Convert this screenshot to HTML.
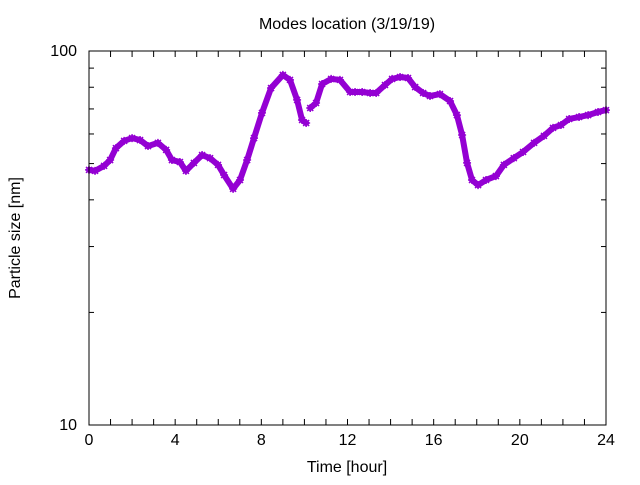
<!DOCTYPE html>
<html><head><meta charset="utf-8"><style>
body{margin:0;background:#fff}
svg text{font-family:"Liberation Sans",sans-serif;font-size:16px;fill:#000}
</style></head><body>
<svg id="chart" width="640" height="480" xmlns="http://www.w3.org/2000/svg">
<rect width="640" height="480" fill="#fff"/>
<text x="347" y="29" text-anchor="middle">Modes location (3/19/19)</text>
<text x="347" y="472" text-anchor="middle">Time [hour]</text>
<text transform="translate(20,238) rotate(-90)" text-anchor="middle">Particle size [nm]</text>
<g id="ticks"></g>
<g id="marks"></g>
<rect x="89" y="51" width="517" height="374" fill="none" stroke="#000" stroke-width="1"/>
</svg>
<script>
const hoursA=[0,0.28,0.7,0.98,1.25,1.63,2.0,2.37,2.74,3.2,3.58,3.85,4.22,4.5,4.87,5.25,5.62,5.99,6.27,6.69,7.01,7.34,7.66,8.03,8.45,9.0,9.33,9.66,9.89,10.08];
const sizesA=[48.1,47.8,49.3,51.1,55.0,57.5,58.5,57.8,55.7,56.8,54.4,51.1,50.5,47.8,50.2,52.7,51.7,49.6,46.6,42.8,45.2,51.1,58.5,68.3,79.6,86.3,83.7,74.0,65.4,64.2];
const hoursB=[10.27,10.54,10.82,11.24,11.65,12.12,12.35,12.68,13.05,13.33,13.74,14.07,14.44,14.81,15.14,15.51,15.83,16.29,16.76,17.08,17.32,17.55,17.78,18.06,18.43,18.89,19.26,19.72,20.15,20.66,21.12,21.54,21.91,22.29,22.75,23.17,23.63,24.0];
const sizesB=[70.4,72.6,81.6,84.2,83.7,77.7,77.7,77.7,77.2,77.2,81.1,84.2,85.2,84.7,80.1,77.2,75.8,76.7,73.5,67.4,59.6,50.2,45.2,43.8,45.2,46.3,49.6,51.7,53.7,56.8,59.3,62.3,63.4,65.8,66.6,67.4,68.7,69.5];
const xTickLabels=["0","4","8","12","16","20","24"];
const yTickLabels=["10","100"];
const X0=89,X1=606,Y0=425,Y1=51;
const xs=t=>X0+(t/24)*(X1-X0);
const ys=v=>Y0-(Math.log10(v)-1)*(Y0-Y1);
const NS="http://www.w3.org/2000/svg";
const tk=document.getElementById('ticks'),mk=document.getElementById('marks');
function ln(x1,y1,x2,y2){const l=document.createElementNS(NS,'line');l.setAttribute('x1',x1);l.setAttribute('y1',y1);l.setAttribute('x2',x2);l.setAttribute('y2',y2);l.setAttribute('stroke','#000');


tk.appendChild(l);}
for(let h=0;h<=24;h++){const x=xs(h);ln(x,Y0,x,Y0-6);ln(x,Y1,x,Y1+6);}
xTickLabels.forEach(s=>{const t=document.createElementNS(NS,'text');t.setAttribute('x',xs(+s));t.setAttribute('y',Y0+20);t.setAttribute('text-anchor','middle');t.textContent=s;


tk.appendChild(t);});
for(let v=10;v<=100;v+=10){const y=ys(v);const len=(v==10||v==100)?9:5;ln(X0,y,X0+len,y);ln(X1,y,X1-len,y);}
yTickLabels.forEach(s=>{const t=document.createElementNS(NS,'text');t.setAttribute('x',X0-12);t.setAttribute('y',ys(+s)+5);t.setAttribute('text-anchor','end');t.textContent=s;


tk.appendChild(t);});
function series(H,V,name){const p=document.createElementNS(NS,'polyline');p.setAttribute('points',H.map((h,i)=>xs(h)+','+ys(V[i])).join(' '));p.setAttribute('fill','none');p.setAttribute('stroke','#9400d3');p.setAttribute('stroke-width','6');p.setAttribute('stroke-linejoin','round');p.setAttribute('stroke-linecap','round');


mk.appendChild(p);
H.forEach((h,i)=>{const c=document.createElementNS(NS,'path');const x=xs(h),y=ys(V[i]);c.setAttribute('d',`M${x-4},${y}h8M${x},${y-4}v8M${x-3},${y-3}l6,6M${x-3},${y+3}l6,-6`);c.setAttribute('stroke','#9400d3');c.setAttribute('stroke-width','1.5');


mk.appendChild(c);});}
series(hoursA,sizesA,'mode-series-part1');
series(hoursB,sizesB,'mode-series-part2');
</script>
</body></html>
